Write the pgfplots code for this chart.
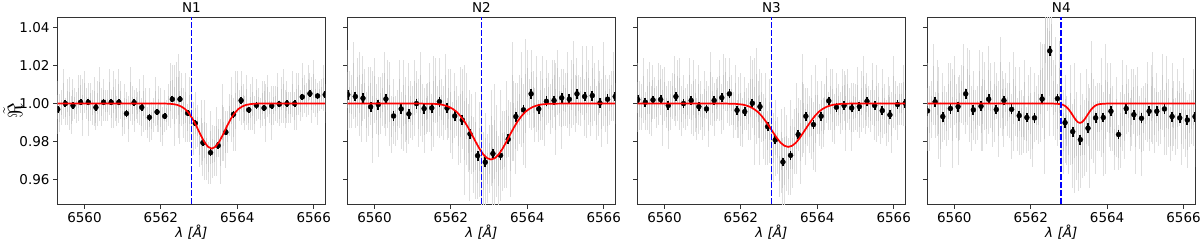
\documentclass[border=0pt]{standalone}
\usepackage{fontspec}
\setmainfont{DejaVu Sans}
\usepackage{xcolor}
\usepackage{pgfplots}
\usepackage{pgfplotstable}
\pgfplotsset{compat=1.18}
\definecolor{mplblue}{RGB}{0,0,255}
\definecolor{mplred}{RGB}{255,0,0}

\pgfplotstableread{
x y e
6559.30 0.998 0.014
6559.35 0.995 0.010
6559.40 0.998 0.009
6559.45 1.005 0.013
6559.50 0.996 0.007
6559.55 1.001 0.012
6559.60 1.000 0.014
6559.65 0.994 0.010
6559.70 1.002 0.011
6559.75 1.000 0.008
6559.80 0.998 0.008
6559.85 1.003 0.012
6559.90 1.005 0.010
6559.95 0.998 0.015
6560.00 1.006 0.011
6560.05 1.000 0.008
6560.10 0.997 0.014
6560.15 1.001 0.010
6560.20 0.998 0.009
6560.25 1.001 0.013
6560.30 0.993 0.007
6560.35 1.000 0.012
6560.40 1.005 0.014
6560.45 0.998 0.010
6560.50 1.002 0.011
6560.55 0.999 0.008
6560.60 0.999 0.008
6560.65 1.006 0.012
6560.70 0.997 0.010
6560.75 1.002 0.015
6560.80 1.002 0.011
6560.85 0.996 0.008
6560.90 1.004 0.014
6560.95 1.002 0.010
6561.00 0.992 0.009
6561.05 0.997 0.013
6561.10 0.999 0.007
6561.15 0.992 0.012
6561.20 1.005 0.014
6561.25 0.999 0.010
6561.30 0.996 0.011
6561.35 1.000 0.008
6561.40 0.998 0.008
6561.45 1.001 0.012
6561.50 0.993 0.010
6561.55 1.000 0.015
6561.60 0.997 0.011
6561.65 0.990 0.008
6561.70 0.994 0.014
6561.75 0.991 0.010
6561.80 0.994 0.009
6561.85 1.001 0.013
6561.90 0.992 0.007
6561.95 0.997 0.012
6562.00 0.994 0.014
6562.05 0.988 0.010
6562.10 0.996 0.011
6562.15 0.994 0.008
6562.20 0.999 0.011
6562.25 1.004 0.017
6562.30 1.006 0.014
6562.35 0.999 0.021
6562.40 1.007 0.015
6562.45 1.004 0.022
6562.50 0.998 0.019
6562.55 1.002 0.014
6562.60 0.995 0.013
6562.65 0.998 0.018
6562.70 0.990 0.010
6562.75 0.997 0.017
6562.80 0.994 0.020
6562.85 0.987 0.014
6562.90 0.991 0.015
6562.95 0.988 0.011
6563.00 0.978 0.011
6563.05 0.985 0.017
6563.10 0.976 0.014
6563.15 0.981 0.021
6563.20 0.975 0.015
6563.25 0.969 0.011
6563.30 0.977 0.019
6563.35 0.975 0.014
6563.40 0.975 0.013
6563.45 0.980 0.018
6563.50 0.982 0.010
6563.55 0.975 0.017
6563.60 0.990 0.020
6563.65 0.984 0.014
6563.70 0.981 0.015
6563.75 0.985 0.011
6563.80 0.994 0.011
6563.85 0.997 0.017
6563.90 0.989 0.014
6563.95 0.996 0.021
6564.00 1.006 0.011
6564.05 0.999 0.008
6564.10 1.003 0.014
6564.15 1.000 0.010
6564.20 0.995 0.009
6564.25 1.002 0.013
6564.30 0.993 0.007
6564.35 0.998 0.012
6564.40 1.000 0.014
6564.45 0.994 0.010
6564.50 1.002 0.011
6564.55 1.000 0.008
6564.60 0.995 0.008
6564.65 1.000 0.012
6564.70 1.002 0.010
6564.75 0.995 0.015
6564.80 1.004 0.011
6564.85 0.998 0.008
6564.90 0.995 0.014
6564.95 0.999 0.010
6565.00 1.000 0.009
6565.05 1.003 0.013
6565.10 0.995 0.007
6565.15 1.002 0.012
6565.20 1.004 0.014
6565.25 0.997 0.010
6565.30 1.001 0.011
6565.35 0.998 0.008
6565.40 0.998 0.008
6565.45 1.005 0.012
6565.50 0.996 0.010
6565.55 1.001 0.015
6565.60 1.005 0.011
6565.65 0.999 0.008
6565.70 1.007 0.014
6565.75 1.005 0.010
6565.80 1.002 0.009
6565.85 1.007 0.013
6565.90 1.009 0.007
6565.95 1.002 0.012
6566.00 1.009 0.014
6566.05 1.003 0.010
6566.10 1.000 0.011
6566.15 1.004 0.008
6566.20 1.005 0.008
6566.25 1.008 0.012
6566.30 1.000 0.010
}\grayA

\pgfplotstableread{
x y e
6559.30 1.007 0.021
6559.35 1.002 0.015
6559.40 1.001 0.014
6559.45 1.012 0.020
6559.50 0.998 0.011
6559.55 1.006 0.018
6559.60 1.005 0.022
6559.65 0.995 0.015
6559.70 1.008 0.017
6559.75 1.005 0.013
6559.80 0.993 0.013
6559.85 1.001 0.018
6559.90 1.004 0.015
6559.95 0.993 0.024
6560.00 1.007 0.017
6560.05 0.997 0.013
6560.10 0.993 0.021
6560.15 0.999 0.015
6560.20 1.002 0.014
6560.25 1.007 0.020
6560.30 0.994 0.011
6560.35 1.005 0.018
6560.40 1.000 0.022
6560.45 0.989 0.015
6560.50 0.996 0.017
6560.55 0.991 0.013
6560.60 0.994 0.013
6560.65 1.005 0.018
6560.70 0.991 0.015
6560.75 0.999 0.024
6560.80 0.997 0.017
6560.85 0.987 0.013
6560.90 1.000 0.021
6560.95 0.997 0.015
6561.00 0.995 0.014
6561.05 1.003 0.020
6561.10 1.006 0.011
6561.15 0.995 0.018
6561.20 1.005 0.022
6561.25 0.995 0.015
6561.30 0.991 0.017
6561.35 0.997 0.013
6561.40 0.998 0.013
6561.45 1.003 0.018
6561.50 0.990 0.015
6561.55 1.001 0.024
6561.60 1.007 0.017
6561.65 0.996 0.013
6561.70 1.003 0.021
6561.75 0.998 0.015
6561.80 0.995 0.014
6561.85 1.006 0.020
6561.90 0.992 0.011
6561.95 1.000 0.018
6562.00 0.996 0.022
6562.05 0.986 0.015
6562.10 0.999 0.017
6562.15 0.996 0.013
6562.20 0.986 0.018
6562.25 0.994 0.025
6562.30 0.997 0.021
6562.35 0.986 0.034
6562.40 0.992 0.024
6562.45 0.982 0.018
6562.50 0.978 0.029
6562.55 0.984 0.021
6562.60 0.973 0.020
6562.65 0.978 0.028
6562.70 0.965 0.015
6562.75 0.976 0.025
6562.80 0.975 0.031
6562.85 0.964 0.021
6562.90 0.971 0.024
6562.95 0.966 0.018
6563.00 0.971 0.018
6563.05 0.982 0.025
6563.10 0.968 0.021
6563.15 0.976 0.034
6563.20 0.975 0.024
6563.25 0.965 0.018
6563.30 0.978 0.029
6563.35 0.975 0.021
6563.40 0.976 0.020
6563.45 0.984 0.028
6563.50 0.987 0.015
6563.55 0.976 0.025
6563.60 1.001 0.031
6563.65 0.991 0.021
6563.70 0.987 0.024
6563.75 0.993 0.018
6563.80 0.997 0.018
6563.85 1.002 0.025
6563.90 0.989 0.021
6563.95 1.000 0.034
6564.00 1.011 0.017
6564.05 1.000 0.013
6564.10 1.007 0.021
6564.15 1.002 0.015
6564.20 0.994 0.014
6564.25 1.005 0.020
6564.30 0.991 0.011
6564.35 0.999 0.018
6564.40 1.003 0.022
6564.45 0.993 0.015
6564.50 1.006 0.017
6564.55 1.003 0.013
6564.60 0.997 0.013
6564.65 1.005 0.018
6564.70 1.008 0.015
6564.75 0.997 0.024
6564.80 1.011 0.017
6564.85 1.001 0.013
6564.90 0.997 0.021
6564.95 1.003 0.015
6565.00 1.002 0.014
6565.05 1.007 0.020
6565.10 0.994 0.011
6565.15 1.005 0.018
6565.20 1.011 0.022
6565.25 1.000 0.015
6565.30 1.007 0.017
6565.35 1.002 0.013
6565.40 1.001 0.013
6565.45 1.012 0.018
6565.50 0.998 0.015
6565.55 1.006 0.024
6565.60 1.006 0.017
6565.65 0.996 0.013
6565.70 1.009 0.021
6565.75 1.006 0.015
6565.80 0.995 0.014
6565.85 1.003 0.020
6565.90 1.006 0.011
6565.95 0.995 0.018
6566.00 1.010 0.022
6566.05 1.000 0.015
6566.10 0.996 0.017
6566.15 1.002 0.013
6566.20 1.004 0.013
6566.25 1.009 0.018
6566.30 0.996 0.015
}\grayB

\pgfplotstableread{
x y e
6559.30 1.003 0.018
6559.35 0.999 0.013
6559.40 0.998 0.012
6559.45 1.007 0.017
6559.50 0.996 0.010
6559.55 1.002 0.016
6559.60 1.003 0.019
6559.65 0.996 0.013
6559.70 1.006 0.014
6559.75 1.003 0.011
6559.80 0.998 0.011
6559.85 1.005 0.016
6559.90 1.007 0.013
6559.95 0.998 0.020
6560.00 1.005 0.014
6560.05 0.998 0.011
6560.10 0.994 0.018
6560.15 0.999 0.013
6560.20 1.004 0.012
6560.25 1.008 0.017
6560.30 0.998 0.010
6560.35 1.007 0.016
6560.40 1.005 0.019
6560.45 0.996 0.013
6560.50 1.001 0.014
6560.55 0.997 0.011
6560.60 0.999 0.011
6560.65 1.008 0.016
6560.70 0.997 0.013
6560.75 1.003 0.020
6560.80 0.999 0.014
6560.85 0.992 0.011
6560.90 1.002 0.018
6560.95 0.999 0.013
6561.00 0.993 0.012
6561.05 1.000 0.017
6561.10 1.002 0.010
6561.15 0.993 0.016
6561.20 1.008 0.019
6561.25 1.001 0.013
6561.30 0.997 0.014
6561.35 1.002 0.011
6561.40 1.003 0.011
6561.45 1.007 0.016
6561.50 0.997 0.013
6561.55 1.006 0.020
6561.60 1.010 0.014
6561.65 1.001 0.011
6561.70 1.006 0.018
6561.75 1.002 0.013
6561.80 0.994 0.012
6561.85 1.003 0.017
6561.90 0.992 0.010
6561.95 0.998 0.016
6562.00 0.997 0.019
6562.05 0.990 0.013
6562.10 1.000 0.014
6562.15 0.997 0.011
6562.20 0.996 0.015
6562.25 1.003 0.022
6562.30 1.005 0.018
6562.35 0.996 0.028
6562.40 1.004 0.025
6562.45 0.997 0.015
6562.50 0.993 0.025
6562.55 0.998 0.018
6562.60 0.988 0.017
6562.65 0.992 0.024
6562.70 0.982 0.014
6562.75 0.991 0.022
6562.80 0.986 0.027
6562.85 0.977 0.018
6562.90 0.982 0.020
6562.95 0.978 0.015
6563.00 0.966 0.015
6563.05 0.975 0.022
6563.10 0.964 0.018
6563.15 0.970 0.028
6563.20 0.974 0.020
6563.25 0.967 0.015
6563.30 0.977 0.025
6563.35 0.974 0.018
6563.40 0.980 0.017
6563.45 0.987 0.024
6563.50 0.989 0.014
6563.55 0.980 0.022
6563.60 0.999 0.027
6563.65 0.992 0.018
6563.70 0.988 0.020
6563.75 0.993 0.015
6563.80 0.989 0.015
6563.85 0.993 0.022
6563.90 0.983 0.018
6563.95 0.992 0.028
6564.00 0.998 0.014
6564.05 0.989 0.011
6564.10 0.994 0.018
6564.15 0.990 0.013
6564.20 0.998 0.012
6564.25 1.007 0.017
6564.30 0.996 0.010
6564.35 1.002 0.016
6564.40 0.999 0.019
6564.45 0.992 0.013
6564.50 1.002 0.014
6564.55 0.999 0.011
6564.60 0.995 0.011
6564.65 1.002 0.016
6564.70 1.004 0.013
6564.75 0.995 0.020
6564.80 1.004 0.014
6564.85 0.997 0.011
6564.90 0.993 0.018
6564.95 0.998 0.013
6565.00 0.998 0.012
6565.05 1.002 0.017
6565.10 0.992 0.010
6565.15 1.001 0.016
6565.20 1.006 0.019
6565.25 0.997 0.013
6565.30 1.002 0.014
6565.35 0.998 0.011
6565.40 0.996 0.011
6565.45 1.005 0.016
6565.50 0.994 0.013
6565.55 1.000 0.020
6565.60 0.997 0.014
6565.65 0.990 0.011
6565.70 1.000 0.018
6565.75 0.997 0.013
6565.80 0.990 0.012
6565.85 0.997 0.017
6565.90 0.999 0.010
6565.95 0.990 0.016
6566.00 1.006 0.019
6566.05 0.999 0.013
6566.10 0.995 0.014
6566.15 1.000 0.011
6566.20 1.000 0.011
6566.25 1.004 0.016
6566.30 0.994 0.013
}\grayC

\pgfplotstableread{
x y e
6559.30 0.998 0.023
6559.35 0.992 0.017
6559.40 0.997 0.015
6559.45 1.010 0.021
6559.50 0.994 0.012
6559.55 1.003 0.020
6559.60 0.995 0.024
6559.65 0.984 0.017
6559.70 0.998 0.018
6559.75 0.995 0.014
6559.80 0.992 0.014
6559.85 1.001 0.020
6559.90 1.004 0.017
6559.95 0.992 0.026
6560.00 1.007 0.018
6560.05 0.996 0.014
6560.10 0.991 0.023
6560.15 0.998 0.017
6560.20 1.005 0.015
6560.25 1.010 0.021
6560.30 0.996 0.012
6560.35 1.009 0.020
6560.40 1.004 0.024
6560.45 0.992 0.017
6560.50 0.999 0.018
6560.55 0.993 0.014
6560.60 0.995 0.014
6560.65 1.008 0.020
6560.70 0.992 0.017
6560.75 1.001 0.026
6560.80 1.004 0.018
6560.85 0.993 0.014
6560.90 1.007 0.023
6560.95 1.004 0.017
6561.00 0.992 0.015
6561.05 1.001 0.021
6561.10 1.004 0.012
6561.15 0.992 0.020
6561.20 1.011 0.024
6561.25 1.000 0.017
6561.30 0.995 0.018
6561.35 1.002 0.014
6561.40 0.997 0.014
6561.45 1.002 0.020
6561.50 0.988 0.017
6561.55 1.001 0.026
6561.60 1.001 0.018
6561.65 0.989 0.014
6561.70 0.996 0.023
6561.75 0.990 0.017
6561.80 0.989 0.015
6561.85 1.002 0.021
6561.90 0.986 0.012
6561.95 0.995 0.020
6562.00 0.995 0.024
6562.05 0.984 0.017
6562.10 0.998 0.018
6562.15 0.995 0.014
6562.20 0.997 0.018
6562.25 1.006 0.026
6562.30 1.009 0.022
6562.35 0.997 0.034
6562.40 1.037 0.035
6562.45 1.026 0.030
6562.50 1.021 0.038
6562.55 1.028 0.030
6562.60 1.003 0.020
6562.65 1.008 0.027
6562.70 0.994 0.016
6562.75 1.007 0.026
6562.80 0.997 0.031
6562.85 0.985 0.022
6562.90 0.992 0.023
6562.95 0.986 0.018
6563.00 0.981 0.018
6563.05 0.994 0.026
6563.10 0.978 0.022
6563.15 0.987 0.034
6563.20 0.983 0.023
6563.25 0.972 0.018
6563.30 0.986 0.030
6563.35 0.983 0.022
6563.40 0.982 0.020
6563.45 0.991 0.027
6563.50 0.994 0.016
6563.55 0.982 0.026
6563.60 1.002 0.031
6563.65 0.991 0.022
6563.70 0.986 0.023
6563.75 0.993 0.018
6563.80 0.993 0.018
6563.85 0.998 0.026
6563.90 0.984 0.022
6563.95 0.997 0.034
6564.00 1.003 0.018
6564.05 0.991 0.014
6564.10 0.998 0.023
6564.15 0.992 0.017
6564.20 0.980 0.015
6564.25 0.993 0.021
6564.30 0.977 0.012
6564.35 0.986 0.020
6564.40 0.999 0.024
6564.45 0.988 0.017
6564.50 1.002 0.018
6564.55 0.999 0.014
6564.60 0.989 0.014
6564.65 0.998 0.020
6564.70 1.001 0.017
6564.75 0.989 0.026
6564.80 1.001 0.018
6564.85 0.990 0.014
6564.90 0.985 0.023
6564.95 0.992 0.017
6565.00 0.996 0.015
6565.05 1.001 0.021
6565.10 0.987 0.012
6565.15 1.000 0.020
6565.20 1.003 0.024
6565.25 0.991 0.017
6565.30 0.998 0.018
6565.35 0.992 0.014
6565.40 0.993 0.014
6565.45 1.006 0.020
6565.50 0.990 0.017
6565.55 0.999 0.026
6565.60 0.995 0.018
6565.65 0.984 0.014
6565.70 0.998 0.023
6565.75 0.995 0.017
6565.80 0.988 0.015
6565.85 0.997 0.021
6565.90 1.000 0.012
6565.95 0.988 0.020
6566.00 1.000 0.024
6566.05 0.989 0.017
6566.10 0.984 0.018
6566.15 0.991 0.014
6566.20 0.993 0.014
6566.25 0.998 0.020
6566.30 0.984 0.017
}\grayD

\newcommand{\lblfont}{\fontsize{13.5}{16}\selectfont}

\pgfplotsset{
  panel/.style={
    scale only axis, width=267.5pt, height=186.7pt,
    anchor=south west,
    xmin=6559.3, xmax=6566.3, ymin=0.9474, ymax=1.0452,
    xtick={6560,6562,6564,6566},
    ytick={0.96,0.98,1.00,1.02,1.04},
    tick pos=left, tick align=outside, major tick length=4.7pt,
    tick style={black!80, line width=0.9pt},
    axis line style={black!80, line width=0.9pt},
    tick label style={font=\lblfont},
    /pgf/number format/assume math mode=true,
    x tick label style={/pgf/number format/1000 sep={}},
    y tick label style={/pgf/number format/.cd, fixed, fixed zerofill, precision=2},
    xlabel={\textit{λ [Å]}},
    xlabel style={at={(axis description cs:0.5,-0.182)}, anchor=base, font=\lblfont},
    every axis title shift=0pt,
    title style={at={(axis description cs:0.5,1.027)}, anchor=base, font=\lblfont},
    clip marker paths=true,
  },
  grayfaint/.style={draw=none, mark=none, forget plot,
    error bars/.cd, y dir=both, y explicit, error mark=none,
    error bar style={line width=1pt, draw=black!13, solid}},
  graycore/.style={draw=none, mark=none, forget plot,
    error bars/.cd, y dir=both, y explicit, error mark=none,
    error bar style={line width=1pt, draw=black!21, solid}},
  binpts/.style={only marks, mark=*, mark size=2.5pt, draw=black, fill=black,
    error bars/.cd, y dir=both, y fixed=#1, error mark=none,
    error bar style={line width=1.8pt, draw=black}},
}

\begin{document}
\begin{tikzpicture}
\useasboundingbox (0,0) rectangle (1200pt,244pt);

% ---------------- N1 ----------------
\begin{axis}[panel, at={(57.7pt,40pt)}, title={N1},
  ylabel={\fontsize{20}{22}\selectfont$\tilde{\Re}$},
  ylabel style={at={(axis description cs:-0.168,0.5)}, anchor=center}]
\addplot[grayfaint] table[x=x, y=y, y error=e] {\grayA};
\addplot[graycore] table[x=x, y=y, y error expr=0.45*\thisrow{e}] {\grayA};
\addplot[binpts=0.0017] coordinates {
(6559.3,0.997) (6559.5,1.000) (6559.7,0.999) (6559.9,1.0007) (6560.1,1.0007)
(6560.3,0.998) (6560.5,1.0007) (6560.7,1.0007) (6560.9,1.0007) (6561.1,0.9948)
(6561.3,1.0005) (6561.5,0.998) (6561.7,0.9928) (6561.9,0.9956) (6562.1,0.9934)
(6562.3,1.0023) (6562.5,1.0023) (6562.7,0.995) (6562.9,0.9897) (6563.1,0.9795)
(6563.3,0.9743) (6563.5,0.978) (6563.7,0.985) (6563.9,0.9944) (6564.1,1.0016)
(6564.3,0.9967) (6564.5,0.9991) (6564.7,0.9977) (6564.9,0.9988) (6565.1,0.9997)
(6565.3,1.000) (6565.5,1.000) (6565.7,1.0035) (6565.9,1.0052) (6566.1,1.004)
(6566.3,1.0047)};
\addplot[mplred, line width=1.7pt, mark=none] coordinates {
(6559.3,1.0) (6562.03,1.0) (6562.13,1.0) (6562.23,0.9999) (6562.33,0.9997)
(6562.43,0.9993) (6562.53,0.9985) (6562.63,0.9972) (6562.73,0.9950) (6562.83,0.9920)
(6562.93,0.9882) (6563.03,0.9840) (6563.13,0.9801) (6563.23,0.9774) (6563.33,0.9764)
(6563.43,0.9774) (6563.53,0.9801) (6563.63,0.9840) (6563.73,0.9882) (6563.83,0.9920)
(6563.93,0.9950) (6564.03,0.9972) (6564.13,0.9985) (6564.23,0.9993) (6564.33,0.9997)
(6564.43,0.9999) (6564.53,1.0) (6566.3,1.0)};
\end{axis}

% ---------------- N2 ----------------
\begin{axis}[panel, at={(347.7pt,40pt)}, title={N2}, yticklabels={}]
\addplot[grayfaint] table[x=x, y=y, y error=e] {\grayB};
\addplot[graycore] table[x=x, y=y, y error expr=0.45*\thisrow{e}] {\grayB};
\addplot[binpts=0.0026] coordinates {
(6559.3,1.0047) (6559.5,1.0037) (6559.7,1.0028) (6559.9,0.9983) (6560.1,0.9995)
(6560.3,1.0024) (6560.5,0.9935) (6560.7,0.9972) (6560.9,0.9946) (6561.1,1.000)
(6561.3,0.9974) (6561.5,0.9977) (6561.7,1.001) (6561.9,0.9976) (6562.1,0.9935)
(6562.3,0.9914) (6562.5,0.9841) (6562.7,0.9727) (6562.9,0.9693) (6563.1,0.9738)
(6563.3,0.9729) (6563.5,0.9813) (6563.7,0.9932) (6563.9,0.9967) (6564.1,1.0051)
(6564.3,0.9972) (6564.5,1.0012) (6564.7,1.0016) (6564.9,1.003) (6565.1,1.0023)
(6565.3,1.0051) (6565.5,1.0037) (6565.7,1.0042) (6565.9,1.0003) (6566.1,1.0023)
(6566.3,1.0037)};
\addplot[mplred, line width=1.7pt, mark=none] coordinates {
(6559.3,1.0) (6561.25,1.0) (6561.45,0.9999) (6561.55,0.9999) (6561.65,0.9997)
(6561.75,0.9995) (6561.85,0.9990) (6561.95,0.9983) (6562.05,0.9972) (6562.15,0.9957)
(6562.25,0.9935) (6562.35,0.9908) (6562.45,0.9875) (6562.55,0.9838) (6562.65,0.9799)
(6562.75,0.9763) (6562.85,0.9733) (6562.95,0.9714) (6563.05,0.9707) (6563.15,0.9714)
(6563.25,0.9733) (6563.35,0.9763) (6563.45,0.9799) (6563.55,0.9838) (6563.65,0.9875)
(6563.75,0.9908) (6563.85,0.9935) (6563.95,0.9957) (6564.05,0.9972) (6564.15,0.9983)
(6564.25,0.9990) (6564.35,0.9995) (6564.45,0.9997) (6564.55,0.9999) (6564.65,0.9999)
(6564.85,1.0) (6566.3,1.0)};
\end{axis}

% ---------------- N3 ----------------
\begin{axis}[panel, at={(637.7pt,40pt)}, title={N3}, yticklabels={}]
\addplot[grayfaint] table[x=x, y=y, y error=e] {\grayC};
\addplot[graycore] table[x=x, y=y, y error expr=0.45*\thisrow{e}] {\grayC};
\addplot[binpts=0.0023] coordinates {
(6559.3,1.0021) (6559.5,1.0007) (6559.7,1.0019) (6559.9,1.0021) (6560.1,0.999)
(6560.3,1.0037) (6560.5,1.000) (6560.7,1.0016) (6560.9,0.9984) (6561.1,0.9972)
(6561.3,1.0016) (6561.5,1.0031) (6561.7,1.0051) (6561.9,0.9965) (6562.1,0.9958)
(6562.3,1.0002) (6562.5,0.9984) (6562.7,0.9879) (6562.9,0.981) (6563.1,0.9694)
(6563.3,0.9729) (6563.5,0.9838) (6563.7,0.9934) (6563.9,0.989) (6564.1,0.9934)
(6564.3,1.0014) (6564.5,0.9981) (6564.7,0.999) (6564.9,0.9977) (6565.1,0.9984)
(6565.3,1.0012) (6565.5,0.999) (6565.7,0.9963) (6565.9,0.9941) (6566.1,0.9995)
(6566.3,1.0002)};
\addplot[mplred, line width=1.7pt, mark=none] coordinates {
(6559.3,1.0) (6561.64,1.0) (6561.74,0.9999) (6561.84,0.9999) (6561.94,0.9997)
(6562.04,0.9995) (6562.14,0.9990) (6562.24,0.9983) (6562.34,0.9972) (6562.44,0.9957)
(6562.54,0.9936) (6562.64,0.9910) (6562.74,0.9881) (6562.84,0.9850) (6562.94,0.9820)
(6563.04,0.9795) (6563.14,0.9779) (6563.24,0.9773) (6563.34,0.9779) (6563.44,0.9795)
(6563.54,0.9820) (6563.64,0.9850) (6563.74,0.9881) (6563.84,0.9910) (6563.94,0.9936)
(6564.04,0.9957) (6564.14,0.9972) (6564.24,0.9983) (6564.34,0.9990) (6564.44,0.9995)
(6564.54,0.9997) (6564.64,0.9999) (6564.74,0.9999) (6564.84,1.0) (6566.3,1.0)};
\end{axis}

% ---------------- N4 ----------------
\begin{axis}[panel, at={(927.5pt,40pt)}, title={N4}, yticklabels={}]
\addplot[grayfaint] table[x=x, y=y, y error=e] {\grayD};
\addplot[graycore] table[x=x, y=y, y error expr=0.45*\thisrow{e}] {\grayD};
\addplot[binpts=0.0026] coordinates {
(6559.3,0.9962) (6559.5,1.0009) (6559.7,0.9932) (6559.9,0.9974) (6560.1,0.9984)
(6560.3,1.0051) (6560.5,0.9967) (6560.7,0.9986) (6560.9,1.0023) (6561.1,0.9969)
(6561.3,1.0016) (6561.5,0.997) (6561.7,0.9937) (6561.9,0.9927) (6562.1,0.9925)
(6562.3,1.0024) (6562.5,1.0276) (6562.7,1.0026) (6562.9,0.990) (6563.1,0.9853)
(6563.3,0.9811) (6563.5,0.9871) (6563.7,0.9925) (6563.9,0.9927) (6564.1,0.996)
(6564.3,0.9838) (6564.5,0.9974) (6564.7,0.9942) (6564.9,0.9923) (6565.1,0.996)
(6565.3,0.996) (6565.5,0.9972) (6565.7,0.9932) (6565.9,0.9925) (6566.1,0.9914)
(6566.3,0.9932)};
\addplot[mplred, line width=1.7pt, mark=none] coordinates {
(6559.3,1.0) (6562.59,1.0) (6562.69,0.9999) (6562.74,0.9998) (6562.79,0.9997)
(6562.84,0.9994) (6562.89,0.9989) (6562.94,0.9981) (6562.99,0.9971) (6563.04,0.9957)
(6563.09,0.9942) (6563.14,0.9926) (6563.19,0.9912) (6563.24,0.9902) (6563.29,0.9899)
(6563.34,0.9902) (6563.39,0.9912) (6563.44,0.9926) (6563.49,0.9942) (6563.54,0.9957)
(6563.59,0.9971) (6563.64,0.9981) (6563.69,0.9989) (6563.74,0.9994) (6563.79,0.9997)
(6563.84,0.9998) (6563.89,0.9999) (6563.99,1.0) (6566.3,1.0)};
\end{axis}

% ---- H-alpha rest wavelength (6562.8) in all four panels: one hidden axis
% spanning the row, x = 6562.8 + panel offset (290pt / 38.214pt per A = 7.5888 A)
\begin{axis}[scale only axis, width=1137.3pt, height=186.7pt, anchor=south west,
  at={(57.7pt,40pt)}, hide axis,
  xmin=6559.3, xmax=6589.062, ymin=0.9474, ymax=1.0452,
  unbounded coords=jump]
\addplot[mplblue, line width=1.6pt, mark=none, dash pattern=on 5.6pt off 2.4pt] coordinates {
(6562.8,0.9474) (6562.8,1.0452) (6566.0,nan)
(6570.389,0.9474) (6570.389,1.0452) (6574.0,nan)
(6577.978,0.9474) (6577.978,1.0452) (6581.0,nan)
(6585.561,0.9474) (6585.561,1.0452)};
\end{axis}
\end{tikzpicture}
\end{document}
